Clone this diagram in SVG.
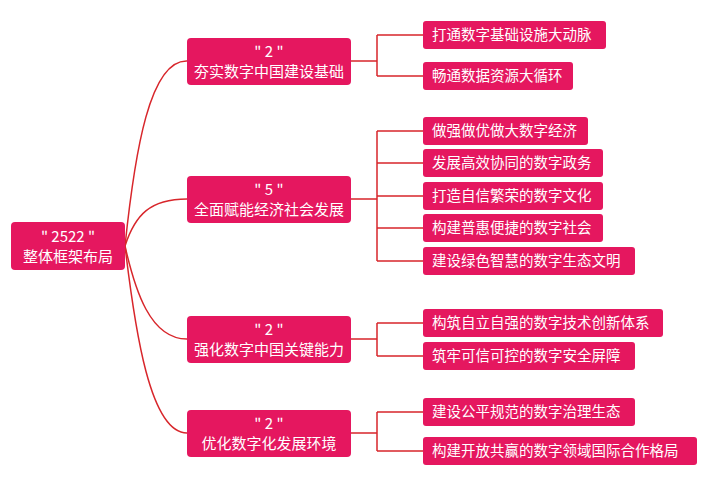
<svg xmlns="http://www.w3.org/2000/svg" width="704" height="500" viewBox="0 0 704 500">
<style>
.b{fill:#e5175f}
.t{fill:#fff;font-family:"Noto Sans CJK SC","Noto Sans",sans-serif;font-size:15px;text-anchor:middle}
.l{fill:#fff;font-family:"Noto Sans CJK SC","Noto Sans",sans-serif;font-size:14.5px}
.c{fill:none;stroke:#d8262b;stroke-width:1.5}
</style>
<rect width="704" height="500" fill="#fff"/>
<g id="connectors">
<path class="c" d="M125 246 C 135 150,150 60,187 61"/>
<path class="c" d="M125 246 C 135 215,150 199,187 199"/>
<path class="c" d="M125 246 C 135 290,150 339,187 339"/>
<path class="c" d="M125 246 C 135 330,150 433,187 433"/>
<path class="c" d="M351 61H377M377 35V76M377 35H423M377 76H423"/>
<path class="c" d="M351 199H377M377 131V261M377 131H423M377 163H423M377 196H423M377 228H423M377 261H423"/>
<path class="c" d="M351 339H377M377 323V356M377 323H423M377 356H423"/>
<path class="c" d="M351 433H377M377 412V451M377 412H423M377 451H423"/>
</g>
<g id="root"><rect class="b" x="11" y="222" width="114" height="48" rx="4"/><text class="t" x="68" y="242">" 2522 "</text><text class="t" x="68" y="262">整体框架布局</text></g>
<g id="n1"><rect class="b" x="187" y="38" width="164" height="47" rx="4"/><text class="t" x="269" y="57">" 2 "</text><text class="t" x="269" y="77">夯实数字中国建设基础</text></g>
<g id="n2"><rect class="b" x="187" y="176" width="164" height="47" rx="4"/><text class="t" x="269" y="195">" 5 "</text><text class="t" x="269" y="215">全面赋能经济社会发展</text></g>
<g id="n3"><rect class="b" x="187" y="316" width="164" height="47" rx="4"/><text class="t" x="269" y="335">" 2 "</text><text class="t" x="269" y="355">强化数字中国关键能力</text></g>
<g id="n4"><rect class="b" x="187" y="410" width="164" height="47" rx="4"/><text class="t" x="269" y="429">" 2 "</text><text class="t" x="269" y="449">优化数字化发展环境</text></g>
<g id="l1"><rect class="b" x="423" y="21" width="183" height="28" rx="3"/><text class="l" x="432" y="40">打通数字基础设施大动脉</text></g>
<g id="l2"><rect class="b" x="423" y="62" width="150" height="28" rx="3"/><text class="l" x="432" y="81">畅通数据资源大循环</text></g>
<g id="l3"><rect class="b" x="423" y="117" width="165" height="28" rx="3"/><text class="l" x="432" y="136">做强做优做大数字经济</text></g>
<g id="l4"><rect class="b" x="423" y="149" width="180" height="28" rx="3"/><text class="l" x="432" y="168">发展高效协同的数字政务</text></g>
<g id="l5"><rect class="b" x="423" y="182" width="180" height="28" rx="3"/><text class="l" x="432" y="201">打造自信繁荣的数字文化</text></g>
<g id="l6"><rect class="b" x="423" y="214" width="180" height="28" rx="3"/><text class="l" x="432" y="233">构建普惠便捷的数字社会</text></g>
<g id="l7"><rect class="b" x="423" y="247" width="212" height="28" rx="3"/><text class="l" x="432" y="266">建设绿色智慧的数字生态文明</text></g>
<g id="l8"><rect class="b" x="423" y="309" width="240" height="28" rx="3"/><text class="l" x="432" y="328">构筑自立自强的数字技术创新体系</text></g>
<g id="l9"><rect class="b" x="423" y="342" width="212" height="28" rx="3"/><text class="l" x="432" y="361">筑牢可信可控的数字安全屏障</text></g>
<g id="l10"><rect class="b" x="423" y="398" width="212" height="28" rx="3"/><text class="l" x="432" y="417">建设公平规范的数字治理生态</text></g>
<g id="l11"><rect class="b" x="423" y="437" width="274" height="28" rx="3"/><text class="l" x="432" y="456">构建开放共赢的数字领域国际合作格局</text></g>
</svg>
